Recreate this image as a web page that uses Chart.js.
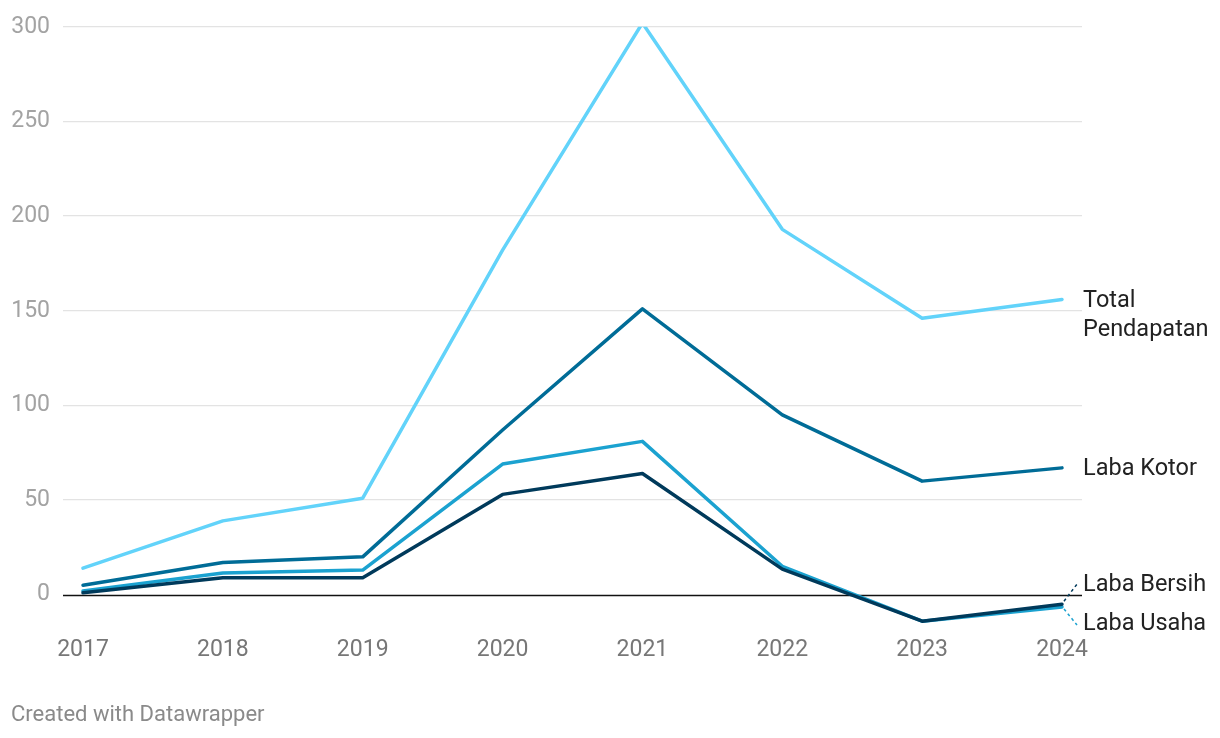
<!DOCTYPE html>
<html>
<head>
<meta charset="utf-8">
<script src="https://cdn.jsdelivr.net/npm/chart.js@4.4.1/dist/chart.umd.min.js"></script>
<style>
  html,body{margin:0;padding:0;background:#fff;}
  #wrap{position:relative;width:1220px;height:738px;}
  #footer{position:absolute;left:11px;top:701px;font-family:Roboto,sans-serif;font-size:22px;color:#8a8a8a;}
</style>
</head>
<body>
<div id="wrap">
  <canvas id="c" width="1220" height="738"></canvas>
  <div id="footer">Created with Datawrapper</div>
</div>
<script>
const years = [2017, 2018, 2019, 2020, 2021, 2022, 2023, 2024];
const totalPendapatan = [14, 39, 51, 182, 302, 193, 146, 156];
const labaKotor = [5, 17, 20, 87, 151, 95, 60, 67];
const labaUsaha = [2, 11.5, 13, 69, 81, 15, -14, -6.5];
const labaBersih = [1, 9, 9, 53, 64, 13.5, -14, -5];
const yTicks = [0, 50, 100, 150, 200, 250, 300];

const seriesNames = ['Total Pendapatan', 'Laba Kotor', 'Laba Usaha', 'Laba Bersih'];
const seriesColors = ['#62d3fa', '#006c97', '#1ba2d0', '#003a5b'];
const seriesData = [totalPendapatan, labaKotor, labaUsaha, labaBersih];

const datasets = seriesData.map((arr, i) => ({
  label: seriesNames[i],
  data: arr.map((v, j) => ({x: years[j], y: v})),
  borderColor: seriesColors[i],
  borderWidth: 3.5,
  pointRadius: 0,
  fill: false,
  tension: 0,
  borderJoinStyle: 'round',
  borderCapStyle: 'round'
}));
datasets[0].order = 4; datasets[1].order = 3; datasets[2].order = 2; datasets[3].order = 1;

const labelPlugin = {
  id: 'endLabels',
  afterDatasetsDraw(chart) {
    const ctx = chart.ctx;
    const x0 = chart.scales.x.getPixelForValue(years[years.length - 1]);
    const lx = chart.chartArea.right + 1;
    ctx.save();
    ctx.font = '23.5px Roboto, sans-serif';
    ctx.fillStyle = '#222';
    ctx.textBaseline = 'middle';
    ctx.textAlign = 'left';
    const yOf = arr => chart.scales.y.getPixelForValue(arr[arr.length - 1]);
    const yt = yOf(totalPendapatan);
    ctx.fillText('Total', lx, yt + 1.5);
    ctx.fillText('Pendapatan', lx, yt + 30.5);
    ctx.fillText('Laba Kotor', lx, yOf(labaKotor) + 1.5);
    const yb = yOf(labaBersih), yu = yOf(labaUsaha);
    const lb = yb - 19, lu = yu + 17;
    ctx.fillText('Laba Bersih', lx, lb);
    ctx.fillText('Laba Usaha', lx, lu);
    ctx.setLineDash([3, 3]);
    ctx.lineWidth = 1.5;
    ctx.strokeStyle = seriesColors[3];
    ctx.beginPath(); ctx.moveTo(x0 + 2, yb - 3); ctx.lineTo(lx - 6, lb - 1); ctx.stroke();
    ctx.strokeStyle = seriesColors[2];
    ctx.beginPath(); ctx.moveTo(x0 + 2, yu + 2); ctx.lineTo(lx - 6, lu + 1); ctx.stroke();
    ctx.restore();
  }
};

const zeroLinePlugin = {
  id: 'zeroLine',
  beforeDatasetsDraw(chart) {
    const ctx = chart.ctx;
    const y = Math.round(chart.scales.y.getPixelForValue(0)) + 0.5;
    ctx.save();
    ctx.strokeStyle = '#111';
    ctx.lineWidth = 1.3;
    ctx.beginPath();
    ctx.moveTo(chart.chartArea.left, y);
    ctx.lineTo(chart.chartArea.right, y);
    ctx.stroke();
    ctx.restore();
  }
};

new Chart(document.getElementById('c'), {
  type: 'line',
  data: {datasets},
  options: {
    responsive: false,
    animation: false,
    layout: {padding: {top: 26, right: 138, bottom: 68, left: 0}},
    plugins: {legend: {display: false}, tooltip: {enabled: false}},
    scales: {
      x: {
        type: 'linear',
        min: 2016.857,
        max: 2024.143,
        afterBuildTicks(scale) { scale.ticks = years.map(v => ({value: v})); },
        afterFit(scale) { scale.height = 45; },
        grid: {display: false, drawTicks: false},
        border: {display: false},
        ticks: {
          padding: 11,
          color: '#777',
          font: {family: 'Roboto', size: 23},
          callback: v => String(v),
          maxRotation: 0,
          autoSkip: false
        }
      },
      y: {
        min: -16,
        max: 300,
        afterBuildTicks(scale) { scale.ticks = yTicks.map(v => ({value: v})); },
        afterFit(scale) { scale.width = 63; },
        grid: {
          color: ctx => ctx.tick && ctx.tick.value === 0 ? 'rgba(0,0,0,0)' : '#e3e3e3',
          lineWidth: 1.3,
          drawTicks: false
        },
        border: {display: false},
        ticks: {
          padding: 13,
          color: '#a3a3a3',
          font: {family: 'Roboto', size: 23}
        }
      }
    }
  },
  plugins: [zeroLinePlugin, labelPlugin]
});
</script>
</body>
</html>
